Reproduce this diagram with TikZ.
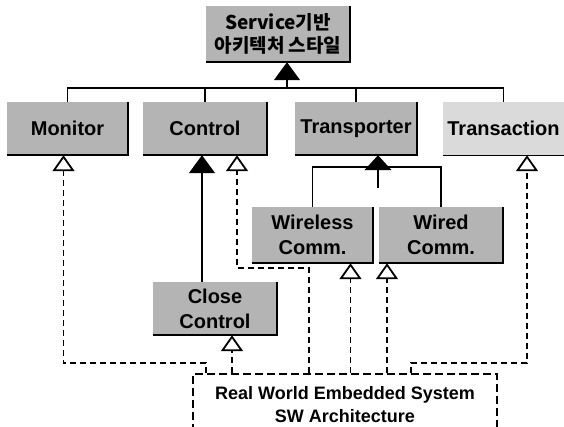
\documentclass[tikz,border=0pt]{standalone}
\usepackage{fontspec}
\setmainfont{Liberation Sans}
\newfontfamily\kofont{Noto Sans CJK KR}
\usetikzlibrary{arrows.meta,calc}

\definecolor{boxgray}{RGB}{180,180,180}
\definecolor{boxlight}{RGB}{218,218,218}

\tikzset{
  classbox/.style={fill=boxgray, inner sep=0pt, align=center, font=\fontsize{20}{25}\selectfont\bfseries},
  genline/.style={line width=1.5pt},
  inhline/.style={line width=1.5pt, -{Triangle[width=26pt,length=18pt]}},
  depline/.style={line width=1.8pt, dash pattern=on 6pt off 4pt, -{Triangle[open,width=22pt,length=16pt]}},
}

\begin{document}
\begin{tikzpicture}[x=1pt,y=-1pt]
  \useasboundingbox (0,0) rectangle (564,427);

  % style on top
  \node[classbox, minimum width=144pt, minimum height=56pt, font=\kofont\fontsize{19}{23}\selectfont\bfseries] (svc) at (278,34) {Service기반\\아키텍처 스타일};

  % services
  \node[classbox, minimum width=121pt, minimum height=53pt] (monitor) at (67.5,128.5) {Monitor};
  \node[classbox, minimum width=124pt, minimum height=53pt] (control) at (205,128.5) {Control};
  \node[classbox, minimum width=122pt, minimum height=53pt] (transporter) at (356,128.5) {Transporter};
  \node[classbox, fill=boxlight, minimum width=121pt, minimum height=53pt] (transaction) at (503.5,128.5) {Transaction};

  % sub services
  \node[classbox, minimum width=121pt, minimum height=56pt] (wireless) at (312.5,235) {Wireless\\Comm.};
  \node[classbox, minimum width=124pt, minimum height=56pt] (wired) at (441,235) {Wired\\Comm.};
  \node[classbox, minimum width=124pt, minimum height=53pt] (closectl) at (215,308.5) {Close\\Control};

  % embedded system
  \node[draw, line width=1.6pt, dash pattern=on 8pt off 4pt, anchor=north, minimum width=304pt, minimum height=62pt,
        align=center, font=\fontsize{18}{23}\selectfont\bfseries] (rw) at (345,373) {Real World Embedded System\\SW Architecture};

  % shadow edges
  \foreach \n in {svc,monitor,control,transporter,wireless,wired,closectl}
    \draw[line width=2.4pt] (\n.north east) -- (\n.south east) -- (\n.south west);
  \draw[line width=1.2pt] (transaction.south west) -- (transaction.south east);

  % generalisation of the services
  \coordinate (bar) at (287,88);
  \draw[genline] (monitor.north) |- (bar) -| (transaction.north);
  \draw[genline] (control.north) -- (control.north |- bar);
  \draw[genline] (transporter.north) -- (transporter.north |- bar);
  \draw[inhline] (bar) -- (bar |- svc.south);

  % close control -> control
  \coordinate (ccup) at ([xshift=-13pt]closectl.north);
  \draw[inhline] (ccup) -- (ccup |- control.south);

  % comm -> transporter
  \coordinate (tbar) at (378,167);
  \coordinate (tstub) at (378,188);
  \draw[genline] (wireless.north) |- (tbar) -| (wired.north);
  \draw[inhline, -{Triangle[width=27pt,length=15pt]}] (tstub) -- (tstub |- transporter.south);

  % dependencies of the embedded system
  \coordinate (wlin) at ([xshift=38pt]wireless.south);
  \coordinate (wdin) at ([xshift=-54pt]wired.south);
  \coordinate (ccin) at ([xshift=17pt]closectl.south);
  \draw[depline] ([xshift=14pt]rw.north west) |- ++(0,-10) -| ([xshift=-4pt]monitor.south);
  \draw[depline] ([xshift=117pt]rw.north west) |- ++(0,-105) -| ([xshift=32pt]control.south);
  \draw[depline] (wlin |- rw.north) -- (wlin);
  \draw[depline] (wdin |- rw.north) -- (wdin);
  \draw[depline] (ccin |- rw.north) -- (ccin);
  \draw[depline] ([xshift=219pt]rw.north west) |- ++(0,-10) -| ([xshift=23.5pt]transaction.south);
\end{tikzpicture}
\end{document}
